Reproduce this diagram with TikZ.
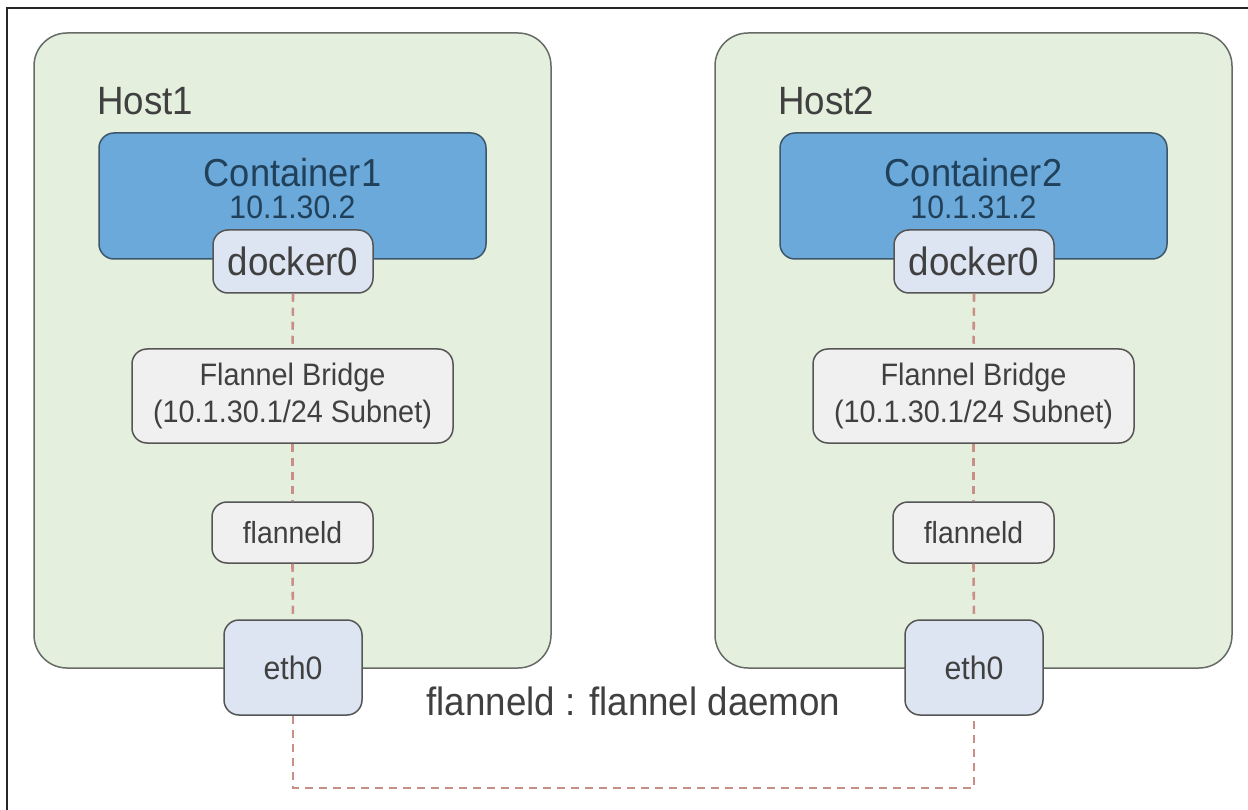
\documentclass[tikz,border=0pt]{standalone}
\usepackage{fontspec}
\setmainfont[FakeStretch=0.93]{Liberation Sans}
\definecolor{hostfill}{HTML}{E4EFDE}
\definecolor{hostborder}{HTML}{666B66}
\definecolor{contfill}{HTML}{6AA9D9}
\definecolor{contborder}{HTML}{3D566B}
\definecolor{ifacefill}{HTML}{DDE5F2}
\definecolor{grayfill}{HTML}{F0F0F0}
\definecolor{boxborder}{HTML}{555555}
\definecolor{txt}{HTML}{404040}
\definecolor{conttxt}{HTML}{21405A}
\definecolor{conncol}{HTML}{C98F86}
\begin{document}
\begin{tikzpicture}[x=1pt,y=-1pt,
  host/.style={draw=hostborder, fill=hostfill, line width=1.5pt, rounded corners=33pt, inner sep=0pt},
  container/.style={draw=contborder, fill=contfill, line width=1.5pt, rounded corners=15pt, inner sep=0pt},
  iface/.style={draw=boxborder, fill=ifacefill, line width=1.5pt, rounded corners=15pt, inner sep=0pt, text=txt},
  graybox/.style={draw=boxborder, fill=grayfill, line width=1.5pt, rounded corners=15pt, inner sep=0pt, text=txt, align=center},
  conn/.style={draw=conncol, line width=2.6pt, dash pattern=on 8pt off 6pt},
  lbl/.style={inner sep=0pt, text=txt}]
\useasboundingbox[fill=white] (0,0) rectangle (1248,810);
% outer frame (top and left edges visible)
\draw[line width=2pt, black!85] (1248,8) -- (7,8) -- (7,810);

\foreach \i/\dx/\ip in {1/0/10.1.30.2, 2/681/10.1.31.2}{
  \node[host, minimum width=517pt, minimum height=635pt] (h\i) at ({292.5+\dx},350.5) {};
  \node[lbl, anchor=base west, font=\fontsize{39.5}{42}\selectfont] (hl\i) at ({97+\dx},115) {Host\i};
  \node[container, minimum width=387pt, minimum height=126pt] (c\i) at ({292.5+\dx},196) {};
  \node[lbl, anchor=base, text=conttxt, font=\fontsize{39}{42}\selectfont] (cn\i) at ({292.5+\dx},186.5) {Container\i};
  \node[lbl, anchor=base, text=conttxt, font=\fontsize{32.5}{35}\selectfont] (ci\i) at ({292.5+\dx},218.5) {\ip};
  \node[iface, minimum width=160pt, minimum height=63pt, font=\fontsize{39.5}{42}\selectfont] (d\i) at ({293+\dx},261.5) {docker0};
  \node[graybox, minimum width=321pt, minimum height=94pt, font=\fontsize{31}{37}\selectfont] (f\i) at ({292.5+\dx},396) {Flannel Bridge\\(10.1.30.1/24 Subnet)};
  \node[graybox, minimum width=161pt, minimum height=61pt, font=\fontsize{30.5}{33}\selectfont] (fd\i) at ({292.5+\dx},532.5) {flanneld};
  \node[iface, minimum width=138pt, minimum height=95pt, font=\fontsize{32.5}{35}\selectfont] (e\i) at ({293+\dx},667.5) {eth0};
  \draw[conn] (d\i.south) -- (f\i.north);
  \draw[conn] (f\i.south) -- (fd\i.north);
  \draw[conn] (fd\i.south) -- (e\i.north);
}
\node[lbl, anchor=base, font=\fontsize{39.5}{42}\selectfont] (legend) at (633.5,715) {flanneld : flannel daemon};
\coordinate (bot) at (633,788);
\draw[conn] (e1.south) |- (bot) -| (e2.south);
\end{tikzpicture}
\end{document}
